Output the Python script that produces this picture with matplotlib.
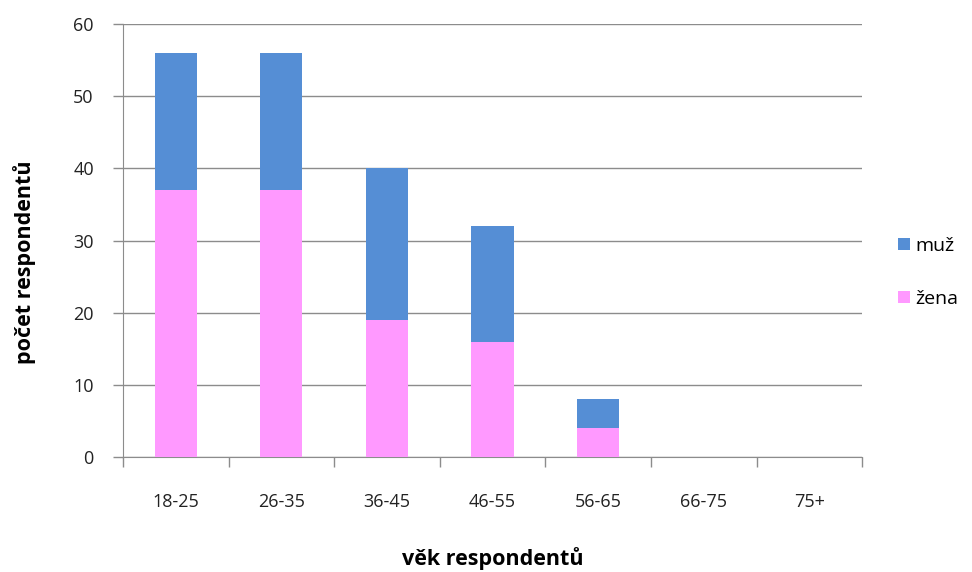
import matplotlib
matplotlib.use("Agg")
import matplotlib.pyplot as plt
import numpy as np

plt.rcParams['font.family'] = ['Open Sans', 'DejaVu Sans']

kategorie = ["18-25", "26-35", "36-45", "46-55", "56-65", "66-75", "75+"]
zena = [37, 37, 19, 16, 4, 0, 0]
muz = [19, 19, 21, 16, 4, 0, 0]

fig = plt.figure(figsize=(9.72, 5.72), dpi=100)
ax = fig.add_axes([0.1265, 0.201, 0.7605, 0.757])

x = np.arange(len(kategorie))
ax.bar(x, zena, width=0.4, color='#FF99FF', label='žena', zorder=3)
ax.bar(x, muz, width=0.4, bottom=zena, color='#558ED5', label='muž', zorder=3)

ax.set_xlim(-0.5, len(kategorie) - 0.5)
ax.set_ylim(0, 60)
ax.set_yticks(range(0, 61, 10))
ax.yaxis.grid(True, color='#8c8c8c', linewidth=1, zorder=0)

ax.set_xticks(x)
ax.set_xticklabels(kategorie)
ax.set_xticks(np.arange(-0.5, len(kategorie)), minor=True)
ax.tick_params(axis='x', which='major', length=0, pad=26, labelsize=13, labelcolor='#222222')
ax.tick_params(axis='x', which='minor', length=7, color='#8c8c8c', width=1)
ax.tick_params(axis='y', length=7, color='#8c8c8c', width=1, labelsize=13, labelcolor='#222222', pad=14)

for s in ['top', 'right']:
    ax.spines[s].set_visible(False)
for s in ['left', 'bottom']:
    ax.spines[s].set_color('#8c8c8c')

ax.set_xlabel("věk respondentů", fontsize=15.5, fontweight='bold', labelpad=26)
ax.set_ylabel("počet respondentů", fontsize=15.5, fontweight='bold')
ax.yaxis.set_label_coords(-0.118, 0.45)

h, l = ax.get_legend_handles_labels()
ax.legend(h[::-1], l[::-1], loc='center left', bbox_to_anchor=(1.025, 0.427),
          frameon=False, fontsize=14, handlelength=0.6, handleheight=0.6,
          labelspacing=1.8, handletextpad=0.3)

fig.savefig("out.png", dpi=100)
